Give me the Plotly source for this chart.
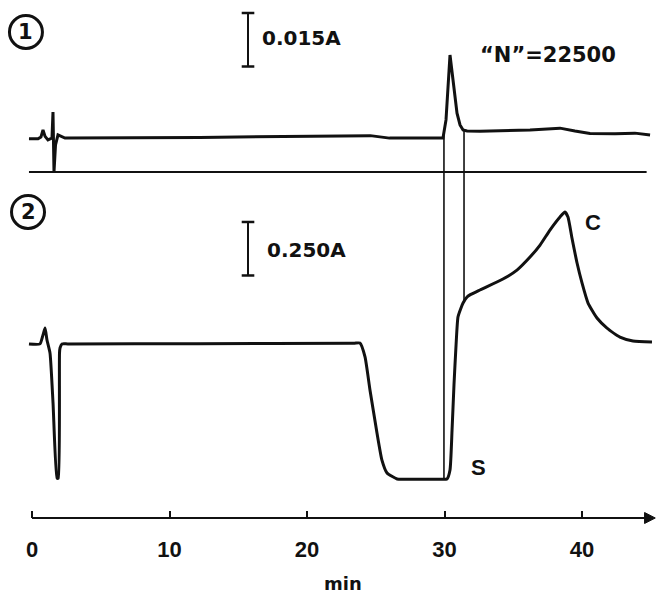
import numpy as np
import plotly.graph_objects as go

# ---------------- data ----------------
# Trace 1: time (min) and absorbance (A) above its own zero line
t1 = [-0.22, 0.44, 0.65, 0.80, 0.95, 1.16, 1.455, 1.527, 1.60, 1.71, 1.89, 2.18, 2.40,
      12.2, 21.7, 24.6, 26.0, 29.7, 29.89, 30.11, 30.25, 30.35, 30.40, 30.62, 30.91,
      31.13, 31.35, 31.64, 32.58, 36.22, 38.4, 39.49, 40.58, 42.4, 43.85, 44.95]
a1 = [0.0093, 0.0093, 0.0098, 0.0118, 0.0100, 0.0090, 0.0095, 0.0168, 0.0, 0.0076, 0.0104, 0.0098, 0.0095,
      0.0097, 0.0101, 0.0102, 0.0095, 0.0094, 0.0095, 0.0146, 0.0238, 0.0306, 0.0328, 0.0258, 0.0165,
      0.0132, 0.0118, 0.0115, 0.0114, 0.0118, 0.0123, 0.0115, 0.0108, 0.0107, 0.0109, 0.0104]
# zero line of trace 1
t1_zero = [-0.22, 44.7]
a1_zero = [0.0, 0.0]

# Trace 2: time (min) and absorbance (A) above its own zero
t2 = [-0.22, 0.58, 0.80, 0.95, 1.09, 1.31, 1.53, 1.82, 1.91, 2.00, 2.04, 2.18,
      2.6, 12.0, 23.4,
      23.85, 24.22, 24.58, 25.09, 25.45, 25.82, 26.55, 27.2, 29.6, 30.18, 30.40, 30.55, 30.69,
      30.84, 30.98, 31.20, 31.35, 31.64, 31.85, 32.58, 34.25, 35.27, 36.22, 36.95,
      37.67, 38.40, 38.76, 38.98, 39.27, 39.64, 40.00, 40.44, 41.09, 41.82, 42.76,
      43.71, 45.09]
a2 = [0.636, 0.636, 0.678, 0.710, 0.654, 0.593, 0.360, 0.009, 0.009, 0.593, 0.617, 0.636,
      0.636, 0.637, 0.639,
      0.640, 0.575, 0.421, 0.220, 0.093, 0.033, 0.005, 0.004, 0.004, 0.005, 0.047, 0.234, 0.444,
      0.631, 0.762, 0.804, 0.827, 0.855, 0.865, 0.888, 0.939, 0.981, 1.042, 1.098,
      1.168, 1.229, 1.252, 1.229, 1.131, 1.014, 0.921, 0.827, 0.757, 0.710, 0.668,
      0.650, 0.645]

# connecting lines between the two recordings (min)
t_links = [29.96, 31.42]

x_ticks = [0, 10, 20, 30, 40]
x_tick_labels = ["0", "10", "20", "30", "40"]

scale1 = 0.015   # A per division, trace 1
scale2 = 0.250   # A per division, trace 2
scale_labels = ["0.015A", "0.250A"]

# ---------------- layout constants ----------------
off1 = 6.467     # division position of trace-1 zero line
off2 = 0.710     # division position of trace-2 zero
y_top = 9.682
x_rng = [-2.327, 45.382]
FONT = "DejaVu Sans, Liberation Sans, Arial"
FONT2 = "Liberation Sans, Arial, Helvetica"
INK = "#111111"

y1 = off1 + np.array(a1) / scale1
y1z = off1 + np.array(a1_zero) / scale1
y2 = off2 + np.array(a2) / scale2

fig = go.Figure()

fig.add_trace(go.Scatter(x=t1_zero, y=y1z, mode="lines",
                         line=dict(color=INK, width=2), hoverinfo="skip"))
fig.add_trace(go.Scatter(x=t1, y=y1, mode="lines",
                         line=dict(color=INK, width=3), hoverinfo="skip"))
fig.add_trace(go.Scatter(x=t2, y=y2, mode="lines",
                         line=dict(color=INK, width=3, shape="spline", smoothing=0.5),
                         hoverinfo="skip"))

# vertical links from trace 1 to trace 2
for tl in t_links:
    top = off1 + np.interp(tl, t1, a1) / scale1
    bot = off2 + np.interp(tl, t2, a2) / scale2
    fig.add_trace(go.Scatter(x=[tl, tl], y=[top, bot], mode="lines",
                             line=dict(color=INK, width=1.6), hoverinfo="skip"))

# scale bars (1 division each)
bar_x = 15.71
bar_tops = [9.439, 5.533]
for bt in bar_tops:
    fig.add_trace(go.Scatter(x=[bar_x, bar_x], y=[bt, bt - 1.0], mode="lines+markers",
                             line=dict(color=INK, width=2),
                             marker=dict(symbol="line-ew-open", size=9,
                                         line=dict(color=INK, width=2.5)),
                             hoverinfo="skip"))

annotations = []
# scale bar labels
for lab, xx, yy in zip(scale_labels, [16.55, 16.95], [8.972, 5.009]):
    annotations.append(dict(x=xx, y=yy, xref="x", yref="y", text=lab, showarrow=False,
                            xanchor="left", yanchor="middle",
                            font=dict(family=FONT, size=20, color=INK, weight="bold")))
annotations.append(dict(x=32.4, y=8.65, xref="x", yref="y", text="“N”=22500",
                        showarrow=False, xanchor="left", yanchor="middle",
                        font=dict(family=FONT, size=21, color=INK, weight="bold")))
annotations.append(dict(x=32.45, y=0.95, xref="x", yref="y", text="S", showarrow=False,
                        xanchor="center", yanchor="middle",
                        font=dict(family=FONT2, size=22, color=INK, weight="bold")))
annotations.append(dict(x=40.8, y=5.515, xref="x", yref="y", text="C", showarrow=False,
                        xanchor="center", yanchor="middle",
                        font=dict(family=FONT2, size=22, color=INK, weight="bold")))
# circled numbers
shapes = []
for num, cx, cy in [("1", -0.44, 9.084), ("2", -0.29, 5.72)]:
    shapes.append(dict(type="circle", xref="x", yref="y", xsizemode="pixel", ysizemode="pixel",
                       xanchor=cx, yanchor=cy, x0=-16.5, x1=16.5, y0=-16.5, y1=16.5,
                       line=dict(color=INK, width=3)))
    annotations.append(dict(x=cx, y=cy, xref="x", yref="y", text=num, showarrow=False,
                            xanchor="center", yanchor="middle",
                            font=dict(family=FONT, size=21, color=INK, weight="bold")))
# x-axis title
annotations.append(dict(x=22.65, y=-0.127, xref="x", yref="paper", text="min", showarrow=False,
                        xanchor="center", yanchor="middle",
                        font=dict(family=FONT, size=18, color=INK, weight="bold")))

# axis line with arrow
shapes.append(dict(type="line", xref="x", yref="paper", x0=0, x1=44.7, y0=0, y1=0,
                   line=dict(color=INK, width=2.2)))
shapes.append(dict(type="path", xref="x", yref="paper",
                   path="M 44.55 0.0106 L 45.33 0 L 44.55 -0.0106 Z",
                   fillcolor=INK, line=dict(color=INK, width=1)))

fig.update_layout(
    width=656, height=593,
    margin=dict(l=0, r=0, t=0, b=75),
    paper_bgcolor="white", plot_bgcolor="white",
    showlegend=False,
    annotations=annotations, shapes=shapes,
    xaxis=dict(range=x_rng, showgrid=False, zeroline=False, showline=False,
               tickmode="array", tickvals=x_ticks, ticktext=x_tick_labels,
               ticks="inside", ticklen=7, tickwidth=2, tickcolor=INK,
               ticklabelstandoff=16,
               tickfont=dict(family=FONT2, size=22, color=INK, weight="bold")),
    yaxis=dict(range=[0, y_top], visible=False, showgrid=False, zeroline=False),
)

fig.write_html("out.html")
